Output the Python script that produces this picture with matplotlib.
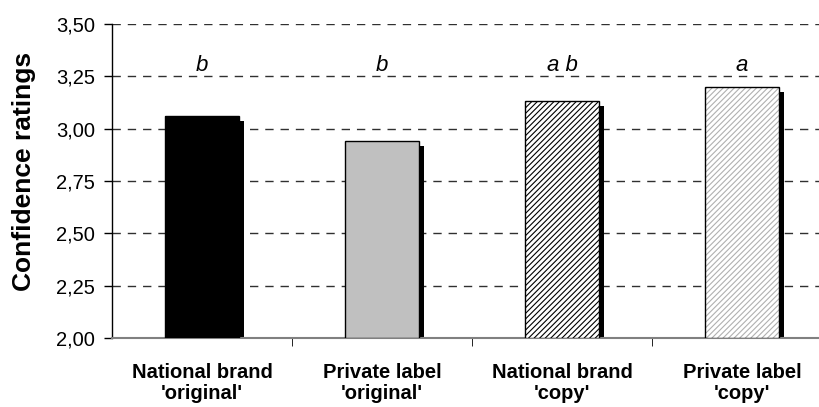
import matplotlib
matplotlib.use("Agg")
import matplotlib.pyplot as plt
import numpy as np

categories = ["National brand\n'original'", "Private label\n'original'",
              "National brand\n'copy'", "Private label\n'copy'"]
values = [3.06, 2.94, 3.13, 3.20]
letters = ["b", "b", "a b", "a"]
yticks = [2.00, 2.25, 2.50, 2.75, 3.00, 3.25, 3.50]
ytick_labels = ["2,00", "2,25", "2,50", "2,75", "3,00", "3,25", "3,50"]

plt.rcParams['font.family'] = ['Liberation Sans', 'DejaVu Sans']
plt.rcParams['hatch.linewidth'] = 0.8

fig = plt.figure(figsize=(8.2, 4.07), dpi=100)
ax = fig.add_axes([0.1366, 0.1695, 0.878, 0.7715])

x = np.arange(len(categories))
w = 0.415
ymin = 2.0

# shadows (offset right and down)
dx = 5 / 180
dy = 5 / 209.3
for xi, v in zip(x, values):
    ax.bar(xi + dx, v - ymin - dy, bottom=ymin, width=w, color='black', linewidth=0, zorder=2)

fills = ['black', '#c0c0c0', 'white', 'white']
hatches = [None, None, '//////', '//////']
hatch_cols = [None, None, 'black', '#b0b0b0']
for xi, v, fc, h, hc in zip(x, values, fills, hatches, hatch_cols):
    if h:
        ax.bar(xi, v - ymin, bottom=ymin, width=w, color=fc, edgecolor=hc, hatch=h, linewidth=0, zorder=3)
    else:
        ax.bar(xi, v - ymin, bottom=ymin, width=w, color=fc, linewidth=0, zorder=3)
    ax.bar(xi, v - ymin, bottom=ymin, width=w, fill=False, edgecolor='black', linewidth=1.0, zorder=4)

for xi, t in zip(x, letters):
    ax.text(xi, 3.30, t, ha='center', va='center', fontsize=16, style='italic')

ax.set_xlim(-0.5, 3.5)
ax.set_ylim(2.0, 3.5)
ax.set_yticks(yticks)
ax.set_yticklabels(ytick_labels, fontsize=14.5)
ax.set_xticks(x)
ax.set_xticklabels(categories, fontsize=14.5, fontweight='bold', linespacing=1.15)
ax.set_xticks([0.5, 1.5, 2.5], minor=True)
ax.tick_params(axis='x', which='major', length=0, pad=18)
ax.tick_params(axis='x', which='minor', length=6, color='black')
ax.tick_params(axis='y', length=6, direction='out', width=1, pad=6)
ax.set_ylabel('Confidence ratings', fontsize=19, fontweight='bold')
ax.yaxis.set_label_coords(-0.105, 0.53)

for yv in yticks[1:]:
    ax.axhline(yv, color='#303030', linestyle=(0, (6, 5)), linewidth=1.0, zorder=1)

ax.spines['top'].set_visible(False)
ax.spines['right'].set_visible(False)
ax.spines['bottom'].set_color('#808080')
ax.spines['bottom'].set_linewidth(1.5)
ax.spines['left'].set_linewidth(1.0)

fig.savefig('out.png', dpi=100)
